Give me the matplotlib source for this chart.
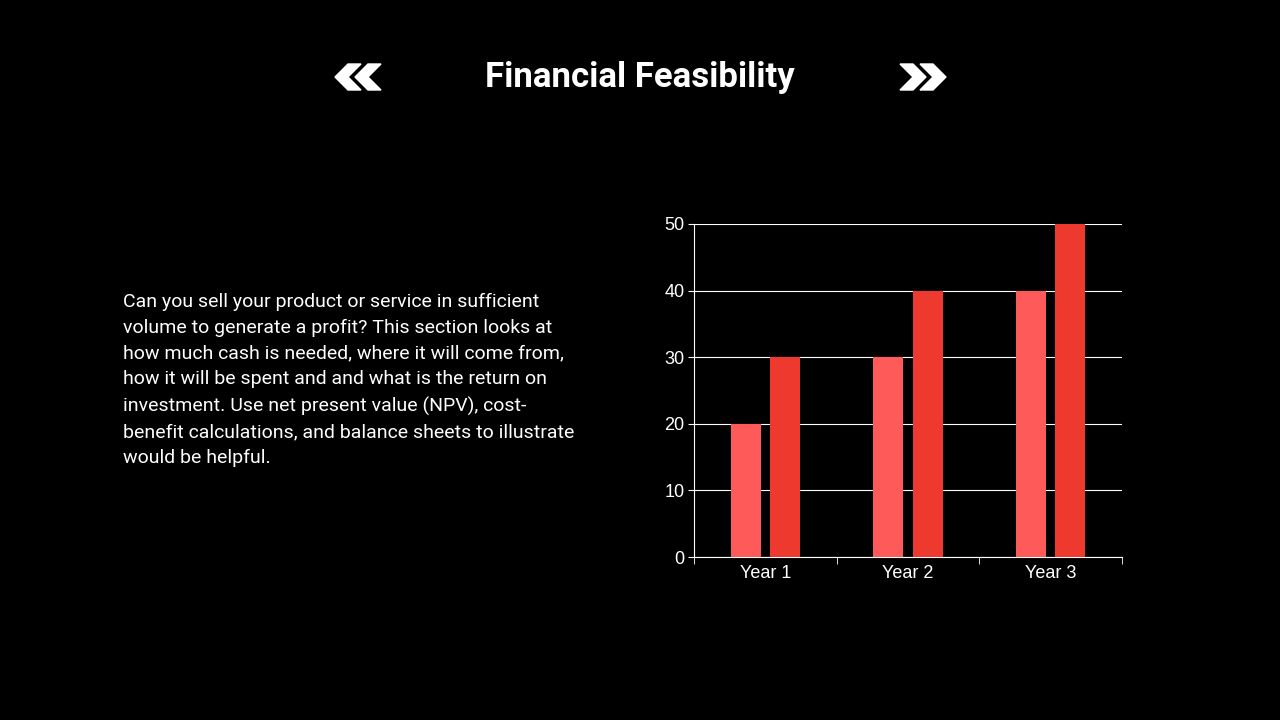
import matplotlib
matplotlib.use("Agg")
import matplotlib.pyplot as plt
from matplotlib.patches import Polygon
import numpy as np

categories = ["Year 1", "Year 2", "Year 3"]
series_a = [20, 30, 40]
series_b = [30, 40, 50]
yticks = [0, 10, 20, 30, 40, 50]

fig = plt.figure(figsize=(12.8, 7.2), dpi=100, facecolor="black")
fig.text(0.5, 0.893, "Financial Feasibility", ha="center", va="center",
         color="white", fontsize=25, fontweight="bold", family="Roboto")

def chevron(x0, y0, w, h, t, direction):
    # x0,y0 in pixels: left and center
    pts = []
    if direction > 0:
        pts = [(x0, y0 + h/2), (x0 + t, y0 + h/2), (x0 + t + w, y0), (x0 + t, y0 - h/2), (x0, y0 - h/2), (x0 + w, y0)]
    else:
        pts = [(x0 + w + t, y0 + h/2), (x0 + w, y0 + h/2), (x0, y0), (x0 + w, y0 - h/2), (x0 + w + t, y0 - h/2), (x0 + t, y0)]
    pts = [(px / 1280, 1 - py / 720) for px, py in pts]
    fig.patches.append(Polygon(pts, closed=True, transform=fig.transFigure, color="white"))

for dx in (0, 20):
    chevron(335 + dx, 77, 13, 26, 13, -1)
    chevron(900 + dx, 77, 13, 26, 13, 1)

para = ("Can you sell your product or service in sufficient\n"
        "volume to generate a profit? This section looks at\n"
        "how much cash is needed, where it will come from,\n"
        "how it will be spent and and what is the return on\n"
        "investment. Use net present value (NPV), cost-\n"
        "benefit calculations, and balance sheets to illustrate\n"
        "would be helpful.")
fig.text(123/1280, 1 - 293/720, para, ha="left", va="top", color="white",
         fontsize=14, family="Roboto", linespacing=1.55)

ax = fig.add_axes([694/1280, 163/720, 428/1280, 333/720])
ax.set_facecolor("black")
x = np.arange(len(categories)) + 0.5
w = 0.21
ax.bar(x - 0.137, series_a, w, color="#FF5A5A", zorder=3)
ax.bar(x + 0.137, series_b, w, color="#EE3A2E", zorder=3)
ax.set_xlim(0, 3)
ax.set_ylim(0, 50)
ax.set_yticks(yticks)
ax.set_xticks(x)
ax.set_xticklabels(categories)
ax.set_xticks([0, 1, 2, 3], minor=True)
ax.tick_params(axis="x", which="major", length=0, pad=6)
ax.tick_params(axis="x", which="minor", length=5, color="white", direction="out")
ax.tick_params(axis="y", length=4, color="white", pad=3)
for lab in ax.get_xticklabels() + ax.get_yticklabels():
    lab.set_color("white")
    lab.set_fontsize(13)
    lab.set_family("Liberation Sans")
ax.grid(axis="y", color="white", linewidth=0.8, zorder=0)
for s in ("top", "right"):
    ax.spines[s].set_visible(False)
ax.spines["left"].set_color("white")
ax.spines["bottom"].set_color("white")
fig.savefig("out.png", dpi=100, facecolor="black")
